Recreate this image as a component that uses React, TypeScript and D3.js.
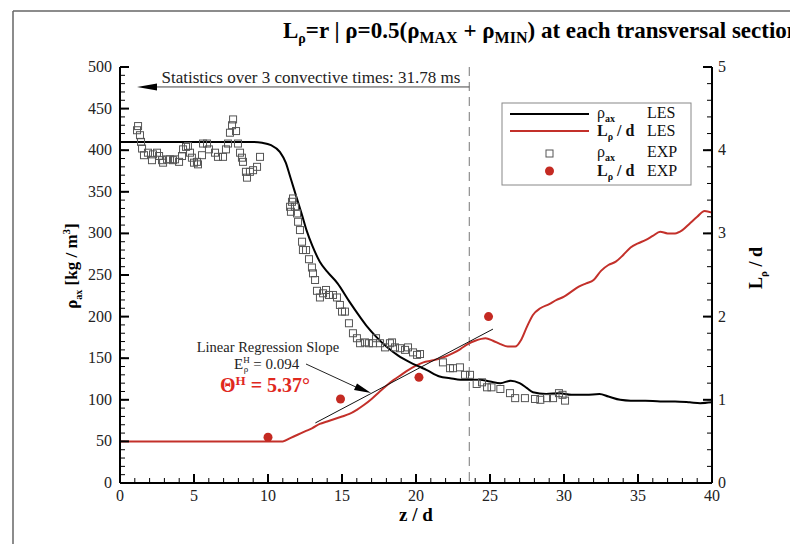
import React from "react";
import * as d3 from "d3";

const lesRho: [number, number][] = [
  [0, 410], [9.0, 410], [9.6, 409], [10.2, 406], [10.8, 398], [11.2, 385], [11.5, 368], [11.9, 345],
  [12.3, 322], [12.6, 304], [13.0, 285], [13.5, 266], [14.0, 254], [14.7, 240], [15.5, 218], [16.2, 200],
  [16.7, 188], [17.3, 176], [18.0, 164], [18.8, 153], [19.6, 145], [20.2, 140], [20.7, 136], [21.6, 128],
  [22.3, 126], [23.0, 124], [24.3, 124], [25.0, 122], [25.7, 120], [26.4, 123], [27.0, 120], [27.5, 114],
  [27.9, 109], [28.8, 107], [29.7, 108], [30.5, 106], [31.5, 106], [32.4, 107], [33.0, 104], [33.8, 100],
  [34.5, 99], [35.5, 99], [36.5, 98], [37.5, 98], [38.5, 97], [39.2, 96], [40, 97],
];

const lesL: [number, number][] = [
  [0, 0.5], [11, 0.5], [11.5, 0.54], [12, 0.58], [12.5, 0.62], [13, 0.66], [13.5, 0.71], [14, 0.74],
  [14.5, 0.77], [15, 0.8], [15.5, 0.83], [16, 0.88], [16.5, 0.94], [17, 1.01], [17.5, 1.09], [18, 1.17],
  [18.5, 1.24], [19, 1.3], [19.5, 1.36], [20, 1.41], [20.5, 1.45], [21, 1.47], [21.5, 1.49], [22, 1.52],
  [22.5, 1.56], [23, 1.61], [23.5, 1.67], [24, 1.71], [24.7, 1.74], [25.2, 1.71], [25.7, 1.67], [26.2, 1.64],
  [26.7, 1.64], [27.1, 1.72], [27.5, 1.88], [27.9, 2.02], [28.4, 2.1], [29, 2.15], [29.5, 2.2], [30, 2.24],
  [30.5, 2.3], [31, 2.36], [31.5, 2.4], [32, 2.44], [32.5, 2.55], [33, 2.62], [33.5, 2.66], [34, 2.74],
  [34.5, 2.83], [35, 2.88], [35.5, 2.92], [36, 2.97], [36.5, 3.02], [37, 3.0], [37.5, 3.0], [38, 3.04],
  [38.5, 3.12], [39, 3.2], [39.5, 3.27], [40, 3.25],
];

const expRho: [number, number][] = [
  [1.15, 424], [1.22, 429], [1.35, 418], [1.42, 410], [1.49, 402], [1.62, 394], [1.89, 397], [2.16, 388],
  [2.23, 395], [2.5, 397], [2.64, 393], [2.84, 388], [2.91, 385], [3.18, 389], [3.38, 389], [3.58, 388],
  [3.72, 389], [3.99, 386], [4.19, 393], [4.26, 401], [4.46, 404], [4.59, 405], [4.73, 397], [4.86, 391],
  [5.0, 385], [5.2, 386], [5.27, 383], [5.54, 394], [5.61, 408], [5.88, 408], [6.01, 401], [6.42, 397],
  [6.62, 392], [6.96, 392], [7.16, 401], [7.3, 408], [7.43, 421], [7.57, 430], [7.64, 437], [7.84, 423],
  [7.97, 408], [8.11, 397], [8.24, 391], [8.31, 386], [8.51, 374], [8.58, 367], [8.78, 374], [8.99, 376],
  [9.26, 380], [9.46, 392],
  [11.49, 332], [11.55, 326], [11.62, 338], [11.69, 342], [11.82, 332], [11.96, 324], [12.03, 314],
  [12.16, 304], [12.3, 290], [12.36, 280], [12.57, 280], [12.77, 269], [12.97, 259], [13.04, 252],
  [13.18, 244], [13.31, 231], [13.51, 223], [13.72, 228], [13.92, 232], [14.12, 226], [14.39, 226],
  [14.66, 223], [14.86, 214], [15.0, 206], [15.2, 206], [15.47, 192], [15.74, 180], [16.01, 174],
  [16.22, 168], [16.55, 169], [16.82, 168], [17.09, 168], [17.3, 174], [17.57, 168], [17.91, 163],
  [18.24, 168], [18.38, 169], [18.58, 163], [18.92, 162], [19.26, 160], [19.46, 163], [19.8, 157],
  [20.07, 154], [20.27, 155], [21.82, 145], [22.3, 138], [22.5, 138], [22.97, 139], [23.31, 130],
  [23.65, 130], [24.1, 119], [24.46, 121], [24.8, 115], [25.1, 115], [25.7, 113], [26.35, 108],
  [26.7, 102], [27.36, 102], [28.04, 101], [28.4, 100], [28.85, 102], [29.26, 102], [29.66, 108],
  [29.9, 106], [30.07, 99],
];

const expL: [number, number][] = [
  [10.0, 0.55], [14.9, 1.01], [20.2, 1.27], [24.9, 2.0],
];

const regression: [number, number][] = [
  [13.2, 0.722], [25.2, 1.85],
];

const xTicks = [0, 5, 10, 15, 20, 25, 30, 35, 40];
const yTicks = [0, 50, 100, 150, 200, 250, 300, 350, 400, 450, 500];
const y2Ticks = [0, 1, 2, 3, 4, 5];
const statsEndZ = 23.6;
const statsArrowTipZ = 1.15;
const statsRhoLevel = 476;

const SERIF = "'Liberation Serif', 'DejaVu Serif', serif";
const RED = "#c3302a";
const REDDOT = "#c42a22";

export default function App() {
  const W = 790, H = 544;
  const x = d3.scaleLinear().domain([0, 40]).range([120, 712]);
  const y = d3.scaleLinear().domain([0, 500]).range([483, 67]);
  const y2 = d3.scaleLinear().domain([0, 5]).range([483, 67]);

  const lineRho = d3.line<[number, number]>().x(d => x(d[0])).y(d => y(d[1])).curve(d3.curveMonotoneX);
  const lineL = d3.line<[number, number]>().x(d => x(d[0])).y(d => y2(d[1])).curve(d3.curveMonotoneX);
  const lineReg = d3.line<[number, number]>().x(d => x(d[0])).y(d => y2(d[1]));

  const xMinor = d3.range(0, 40.001, 1);
  const yMinor = d3.range(0, 500.001, 10);
  const y2Minor = d3.range(0, 5.001, 0.2);

  const left = x(0), right = x(40), bottom = y(0), top = y(500);

  const statsY = y(statsRhoLevel);
  const tipX = x(statsArrowTipZ);
  const dashX = x(statsEndZ);

  return (
    <svg width={W} height={H} style={{ position: "absolute", left: 0, top: 0, background: "#fff" }} fontFamily={SERIF}>
      <rect x={0} y={0} width={W} height={H} fill="#fff" />
      {/* outer frame */}
      <line x1={13} y1={11} x2={W} y2={11} stroke="#666" strokeWidth={1.5} />
      <line x1={13} y1={11} x2={13} y2={H} stroke="#666" strokeWidth={1.5} />

      {/* title */}
      <text x={283} y={38} fontSize={23} fontWeight="bold" fill="#000">
        <tspan>L</tspan>
        <tspan dy={5} fontSize={14}>ρ</tspan>
        <tspan dy={-5}>=r | ρ=0.5(ρ</tspan>
        <tspan dy={5} fontSize={16}>MAX</tspan>
        <tspan dy={-5}> + ρ</tspan>
        <tspan dy={5} fontSize={16}>MIN</tspan>
        <tspan dy={-5}>) at each transversal section</tspan>
      </text>

      {/* dashed stats line */}
      <line x1={dashX} y1={top} x2={dashX} y2={bottom} stroke="#777" strokeWidth={1} strokeDasharray="9,6" />
      <line x1={dashX} y1={statsY} x2={tipX + 16} y2={statsY} stroke="#444" strokeWidth={1} />
      <path d={`M${tipX},${statsY} L${tipX + 20},${statsY - 3.5} L${tipX + 20},${statsY + 3.5} Z`} fill="#000" />
      <text x={311} y={statsY - 4} fontSize={17} textAnchor="middle" fill="#222">
        Statistics over 3 convective times: 31.78 ms
      </text>

      {/* data lines */}
      <path d={lineL(lesL) || ""} fill="none" stroke={RED} strokeWidth={2} />
      <path d={lineRho(lesRho) || ""} fill="none" stroke="#000" strokeWidth={2} />
      <path d={lineReg(regression) || ""} fill="none" stroke="#111" strokeWidth={1} />

      {expRho.map((d, i) => (
        <rect key={i} x={x(d[0]) - 3.5} y={y(d[1]) - 3.5} width={7} height={7} fill="none" stroke="#555" strokeWidth={1} />
      ))}
      {expL.map((d, i) => (
        <circle key={i} cx={x(d[0])} cy={y2(d[1])} r={4.5} fill={REDDOT} />
      ))}

      {/* annotation */}
      <text x={268} y={352} fontSize={14.5} textAnchor="middle" fill="#222">Linear Regression Slope</text>
      <text x={234} y={369} fontSize={15} fill="#222">
        <tspan>E</tspan>
        <tspan dy={-6} fontSize={9}>H</tspan>
        <tspan dx={-6} dy={9} fontSize={9}>ρ</tspan>
        <tspan dx={5} dy={-3}>= 0.094</tspan>
      </text>
      <text x={265} y={392} fontSize={20} fontWeight="bold" textAnchor="middle" fill="#e0281e">
        <tspan>Θ</tspan>
        <tspan dy={-7} fontSize={13}>H</tspan>
        <tspan dy={7}> = 5.37°</tspan>
      </text>
      <line x1={306} y1={364} x2={358} y2={388} stroke="#222" strokeWidth={1} />
      <path d="M371,393 L354,390 L357,383.5 Z" fill="#000" />

      {/* axes */}
      <line x1={left} y1={top} x2={left} y2={bottom} stroke="#000" strokeWidth={2} />
      <line x1={right} y1={top} x2={right} y2={bottom} stroke="#000" strokeWidth={2} />
      <line x1={left} y1={bottom} x2={right} y2={bottom} stroke="#000" strokeWidth={2} />

      {xMinor.map((t, i) => (
        <line key={"xm" + i} x1={x(t)} x2={x(t)} y1={bottom} y2={bottom - 5} stroke="#000" strokeWidth={1} />
      ))}
      {xTicks.map((t, i) => (
        <line key={"xM" + i} x1={x(t)} x2={x(t)} y1={bottom} y2={bottom - 9} stroke="#000" strokeWidth={2} />
      ))}
      {yMinor.map((t, i) => (
        <line key={"ym" + i} x1={left} x2={left + 5} y1={y(t)} y2={y(t)} stroke="#000" strokeWidth={1} />
      ))}
      {yTicks.map((t, i) => (
        <line key={"yM" + i} x1={left} x2={left + 9} y1={y(t)} y2={y(t)} stroke="#000" strokeWidth={2} />
      ))}
      {y2Minor.map((t, i) => (
        <line key={"y2m" + i} x1={right} x2={right - 5} y1={y2(t)} y2={y2(t)} stroke="#000" strokeWidth={1} />
      ))}
      {y2Ticks.map((t, i) => (
        <line key={"y2M" + i} x1={right} x2={right - 9} y1={y2(t)} y2={y2(t)} stroke="#000" strokeWidth={2} />
      ))}

      {xTicks.map((t, i) => (
        <text key={"xl" + i} x={x(t)} y={bottom + 18} fontSize={16} textAnchor="middle" fill="#222">{t}</text>
      ))}
      {yTicks.map((t, i) => (
        <text key={"yl" + i} x={left - 8} y={y(t) + 5} fontSize={16} textAnchor="end" fill="#222">{t}</text>
      ))}
      {y2Ticks.map((t, i) => (
        <text key={"y2l" + i} x={right + 6} y={y2(t) + 5} fontSize={16} textAnchor="start" fill="#222">{t}</text>
      ))}

      <text x={(left + right) / 2} y={521} fontSize={19} fontWeight="bold" textAnchor="middle">z / d</text>
      <text transform="translate(77,266) rotate(-90)" fontSize={17} fontWeight="bold" textAnchor="middle">
        <tspan>ρ</tspan>
        <tspan dy={5} fontSize={10}>ax</tspan>
        <tspan dy={-5}> [kg / m</tspan>
        <tspan dy={-7} fontSize={11}>3</tspan>
        <tspan dy={7}>]</tspan>
      </text>
      <text transform="translate(762,268) rotate(-90)" fontSize={18} fontWeight="bold" textAnchor="middle">
        <tspan>L</tspan>
        <tspan dy={5} fontSize={11}>ρ</tspan>
        <tspan dy={-5}> / d</tspan>
      </text>

      {/* legend */}
      <rect x={502} y={103} width={189} height={82} fill="#fff" stroke="#888" strokeWidth={1} />
      <line x1={510} x2={589} y1={114} y2={114} stroke="#000" strokeWidth={2} />
      <line x1={510} x2={589} y1={131} y2={131} stroke={RED} strokeWidth={2} />
      <rect x={546} y={150} width={7} height={7} fill="none" stroke="#555" strokeWidth={1} />
      <circle cx={549.5} cy={171} r={4.5} fill={REDDOT} />
      <g fontSize={16} fill="#111">
        <text x={597} y={118}>ρ<tspan dy={4} fontSize={10} fontWeight="bold">ax</tspan></text>
        <text x={597} y={136} fontWeight="bold">L<tspan dy={4} fontSize={10}>ρ</tspan><tspan dy={-4}> / d</tspan></text>
        <text x={597} y={157}>ρ<tspan dy={4} fontSize={10} fontWeight="bold">ax</tspan></text>
        <text x={597} y={176} fontWeight="bold">L<tspan dy={4} fontSize={10}>ρ</tspan><tspan dy={-4}> / d</tspan></text>
        <text x={647} y={118}>LES</text>
        <text x={647} y={136}>LES</text>
        <text x={647} y={157}>EXP</text>
        <text x={647} y={176}>EXP</text>
      </g>
    </svg>
  );
}
